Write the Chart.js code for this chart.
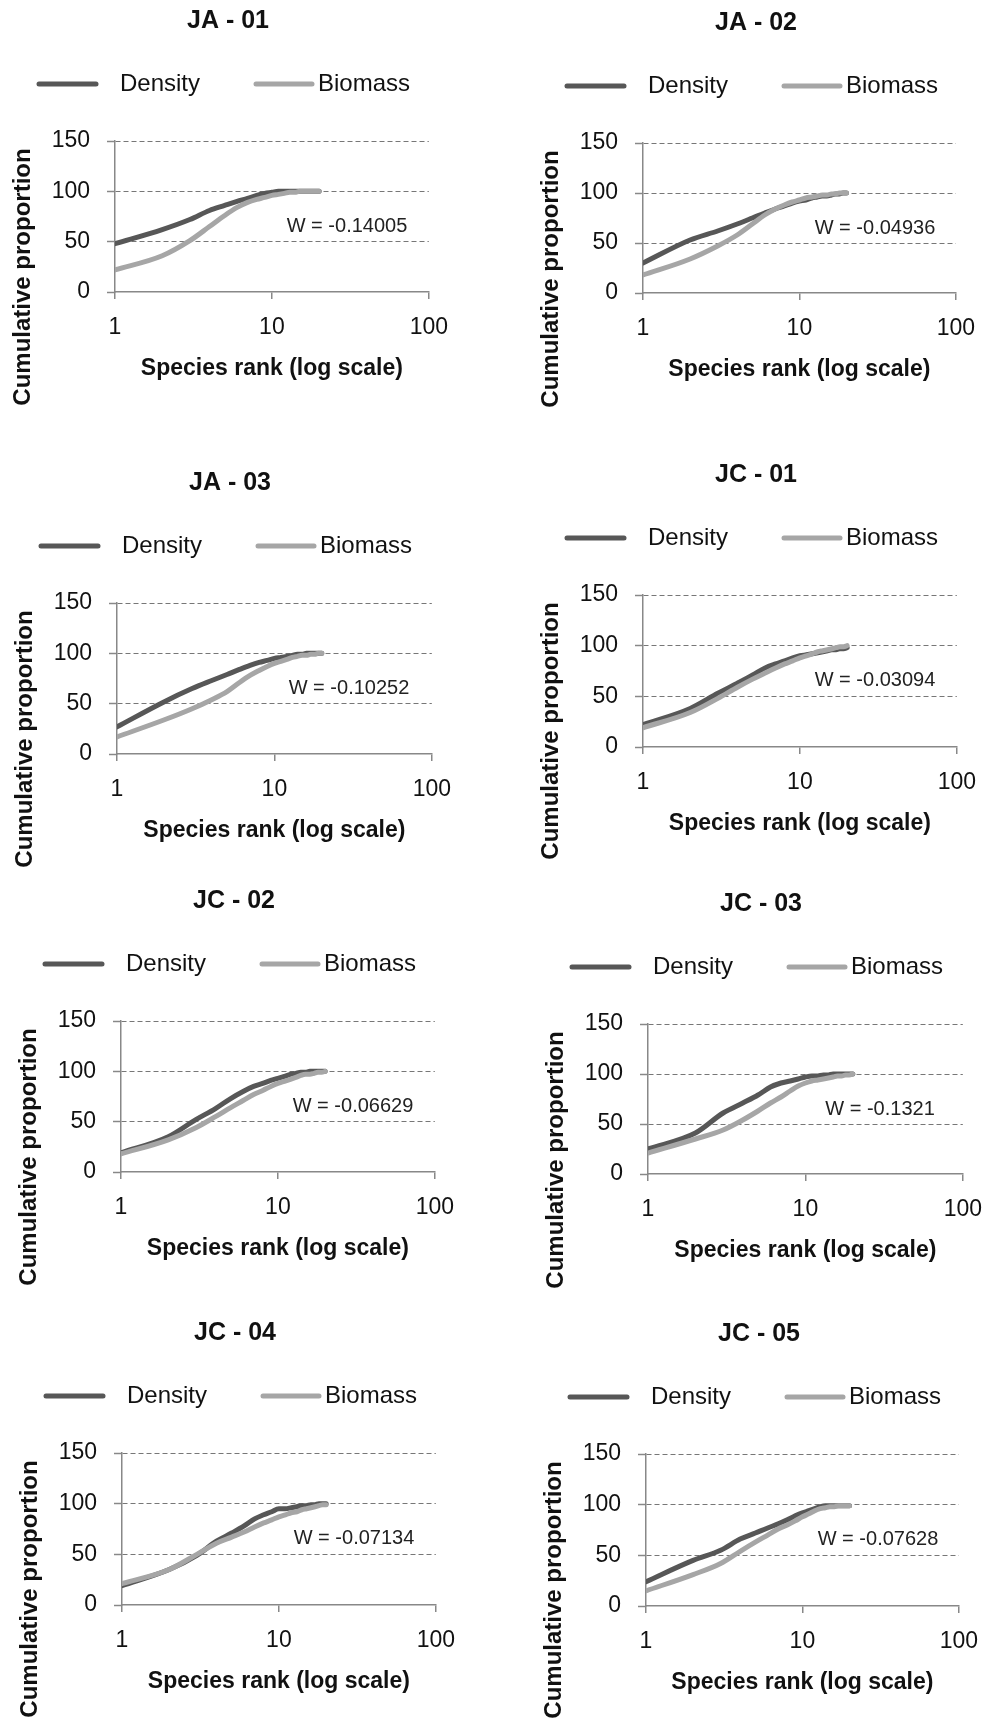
<!DOCTYPE html>
<html><head><meta charset="utf-8">
<script src="https://cdn.jsdelivr.net/npm/chart.js@4.4.1/dist/chart.umd.min.js"></script>
<style>
html,body{margin:0;padding:0;background:#fff;width:997px;height:1727px;overflow:hidden;position:relative}
canvas{position:absolute}
</style></head><body>
<script>
// ---------- data ----------
const ranks = [1,2,3,4,5,6,7,8,9,10,11,12,13,14,15,16,17,18,19,20];
const xTickValues = [1, 10, 100];
const yTickValues = [0, 50, 100, 150];
const seriesNames = ['Density', 'Biomass'];
const panelTitles = ['JA - 01','JA - 02','JA - 03','JC - 01','JC - 02','JC - 03','JC - 04','JC - 05'];
const wLabels = ['W = -0.14005','W = -0.04936','W = -0.10252','W = -0.03094','W = -0.06629','W = -0.1321','W = -0.07134','W = -0.07628'];
const xTitle = 'Species rank (log scale)';
const yTitle = 'Cumulative proportion';

const JA01_density = [48,62,72,81,86,90,93,96,98,99,100,100,100,100,100,100,100,100,100,100];
const JA01_biomass = [22,36,51,65,76,84,89,92,94,96,97,98,99,99,100,100,100,100,100,100];
const JA02_density = [30,53,62,69,75,80,84,87,90,92,93,95,96,97,97,98,99,99,100,100];
const JA02_biomass = [18,34,47,58,69,78,84,88,91,93,95,96,97,98,98,99,99,100,100,100];
const JA03_density = [27,52,65,73,79,84,88,91,93,95,96,97,98,99,99,100,100,100,100,100];
const JA03_biomass = [17,34,45,54,62,71,78,83,87,90,92,94,96,97,98,98,99,99,100,100];
const JC01_density = [22,38,53,63,71,78,82,85,88,90,91,92,93,94,95,96,96,97,97,98];
const JC01_biomass = [19,34,48,59,67,73,78,82,85,88,90,92,94,95,96,97,98,99,99,100];
const JC02_density = [19,35,52,63,73,80,85,88,91,93,95,97,98,99,99,100,100,100,100,100];
const JC02_biomass = [18,32,44,55,64,71,77,81,85,88,90,92,94,96,97,97,98,99,99,100];
const JC03_density = [25,41,61,71,79,87,91,93,95,97,98,98,99,99,100,100,100,100,100,100];
const JC03_biomass = [21,35,44,54,63,71,77,83,88,91,93,94,95,96,97,98,98,99,99,100];
const JC04_density = [19,35,49,63,71,78,85,89,92,95,95,96,97,98,98,99,99,100,100,100];
const JC04_biomass = [21,35,50,61,67,72,77,81,84,87,89,91,92,94,95,96,97,98,99,99];
const JC05_density = [24,45,55,66,72,77,81,85,89,92,94,96,98,99,99,99,99,99,99,99];
const JC05_biomass = [15,31,42,54,63,70,76,80,84,88,91,94,96,97,98,98,99,99,99,99];

const densitySeries = [JA01_density,JA02_density,JA03_density,JC01_density,JC02_density,JC03_density,JC04_density,JC05_density];
const biomassSeries = [JA01_biomass,JA02_biomass,JA03_biomass,JC01_biomass,JC02_biomass,JC03_biomass,JC04_biomass,JC05_biomass];

// ---------- layout (plot-area boxes in page pixels) ----------
const boxes = [
  {L:115,T:141,R:439,B:292},{L:643,T:143,R:966,B:293},
  {L:117,T:603,R:442,B:754},{L:643,T:595,R:967,B:747},
  {L:121,T:1021,R:445,B:1172},{L:648,T:1024,R:973,B:1174},
  {L:122,T:1453,R:446,B:1605},{L:646,T:1454,R:969,B:1606}
];
const PADL = 115, PADT = 141, PADR = 24, XH = 100, PADB = 50;
const FONT = "'Liberation Sans', Arial, sans-serif";
const DARK = '#575757', LIGHT = '#a6a6a6';
Chart.defaults.font.family = FONT;

const decor = {
  id: 'decor',
  afterDraw(chart, args, opts) {
    const ctx = chart.ctx, a = chart.chartArea;
    ctx.save();
    // panel title
    ctx.fillStyle = '#111';
    ctx.font = "bold 25px " + FONT;
    ctx.textAlign = 'center'; ctx.textBaseline = 'middle';
    ctx.fillText(opts.title, a.left + 113, a.top - 120);
    // legend
    const ly = a.top - 57;
    ctx.lineCap = 'round'; ctx.lineWidth = 5;
    ctx.strokeStyle = DARK;
    ctx.beginPath(); ctx.moveTo(a.left - 76, ly); ctx.lineTo(a.left - 19, ly); ctx.stroke();
    ctx.strokeStyle = LIGHT;
    ctx.beginPath(); ctx.moveTo(a.left + 141, ly); ctx.lineTo(a.left + 197, ly); ctx.stroke();
    ctx.font = "24px " + FONT; ctx.textAlign = 'left'; ctx.fillStyle = '#111';
    ctx.fillText(seriesNames[0], a.left + 5, ly);
    ctx.fillText(seriesNames[1], a.left + 203, ly);
    // W annotation
    ctx.font = "20px " + FONT; ctx.textAlign = 'center'; ctx.fillStyle = '#222';
    ctx.fillText(opts.w, a.left + 232, a.top + 85);
    // y title
    ctx.translate(a.left - 92, a.top + 136);
    ctx.rotate(-Math.PI / 2);
    ctx.font = "bold 24px " + FONT; ctx.fillStyle = '#111';
    ctx.fillText(yTitle, 0, 0);
    ctx.restore();
  }
};

boxes.forEach((box, i) => {
  const plotW = box.R - box.L, plotH = box.B - box.T;
  const cw = PADL + plotW + PADR, ch = PADT + plotH + XH + PADB;
  const canvas = document.createElement('canvas');
  canvas.width = cw; canvas.height = ch;
  canvas.style.left = (box.L - PADL) + 'px';
  canvas.style.top = (box.T - PADT) + 'px';
  canvas.style.width = cw + 'px'; canvas.style.height = ch + 'px';
  document.body.appendChild(canvas);
  new Chart(canvas, {
    type: 'line',
    data: {
      datasets: [
        { label: seriesNames[0], data: ranks.map((r, k) => ({x: r, y: densitySeries[i][k]})), borderColor: DARK, backgroundColor: DARK, order: 1 },
        { label: seriesNames[1], data: ranks.map((r, k) => ({x: r, y: biomassSeries[i][k]})), borderColor: LIGHT, backgroundColor: LIGHT, order: 0 }
      ]
    },
    options: {
      responsive: false, animation: false, devicePixelRatio: 1,
      layout: { padding: { left: 0, top: PADT, right: PADR, bottom: PADB } },
      elements: {
        line: { borderWidth: 5, cubicInterpolationMode: 'monotone', borderCapStyle: 'round', borderJoinStyle: 'round', fill: false },
        point: { radius: 0, hoverRadius: 0 }
      },
      plugins: {
        legend: { display: false }, tooltip: { enabled: false }, title: { display: false },
        decor: { title: panelTitles[i], w: wLabels[i] }
      },
      scales: {
        x: {
          type: 'logarithmic', min: 1, max: 100,
          afterBuildTicks: s => { s.ticks = xTickValues.map(v => ({value: v})); },
          afterFit: s => { s.height = XH; },
          ticks: { font: { size: 23 }, color: '#111', padding: 15, maxRotation: 0, autoSkip: false, callback: v => String(v) },
          grid: { drawOnChartArea: false, tickLength: 7, color: '#888', lineWidth: 1.5 },
          border: { display: true, color: '#888', width: 1.5 },
          title: { display: true, text: xTitle, font: { size: 23, weight: 'bold' }, color: '#111', padding: { top: 0, bottom: 10 } }
        },
        y: {
          type: 'linear', min: 0, max: 150,
          afterBuildTicks: s => { s.ticks = yTickValues.map(v => ({value: v})); },
          afterFit: s => { s.width = PADL; },
          ticks: { font: { size: 23 }, color: '#111', padding: 17 },
          grid: { color: c => (c.tick && c.tick.value === 0) ? 'rgba(0,0,0,0)' : '#777', lineWidth: 1, tickLength: 8, tickColor: '#888', tickWidth: 1.5 },
          border: { display: true, color: '#888', width: 1.5, dash: [5, 3] }
        }
      }
    },
    plugins: [decor]
  });
});
</script>
</body></html>
